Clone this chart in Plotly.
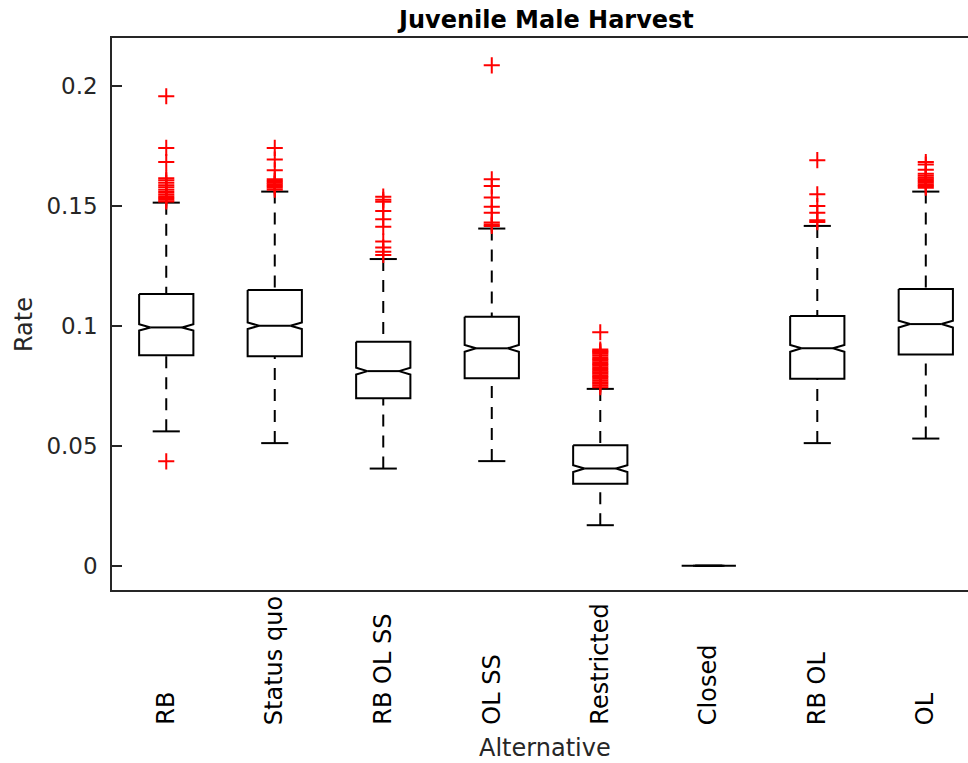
import plotly.graph_objects as go

categories = ["RB", "Status quo", "RB OL SS", "OL SS", "Restricted", "Closed", "RB OL", "OL"]
q1 = [0.0877, 0.0873, 0.0698, 0.0781, 0.0342, 0.0, 0.0779, 0.0880]
medians = [0.0993, 0.1000, 0.0811, 0.0906, 0.0405, 0.0, 0.0906, 0.1007]
q3 = [0.1132, 0.1149, 0.0933, 0.1038, 0.0502, 0.0, 0.1041, 0.1153]
notch_lo = [0.0980, 0.0986, 0.0797, 0.0892, 0.0391, 0.0, 0.0892, 0.0993]
notch_hi = [0.1006, 0.1014, 0.0825, 0.0920, 0.0419, 0.0, 0.0920, 0.1021]
lower_whisker = [0.0560, 0.0511, 0.0405, 0.0436, 0.0169, 0.0, 0.0511, 0.0530]
upper_whisker = [0.1513, 0.1559, 0.1278, 0.1405, 0.0737, 0.0, 0.1416, 0.1559]
outliers = [
    [0.1956, 0.1741, 0.1682, 0.1615, 0.1606, 0.1596, 0.1585, 0.1577, 0.1567, 0.1557,
     0.1548, 0.1540, 0.1532, 0.1525, 0.1518, 0.0435],
    [0.1741, 0.1693, 0.1648, 0.1610, 0.1603, 0.1596, 0.1590, 0.1582, 0.1575, 0.1567],
    [0.1538, 0.1525, 0.1517, 0.1478, 0.1444, 0.1413, 0.1351, 0.1326, 0.1308, 0.1295],
    [0.2085, 0.1610, 0.1582, 0.1534, 0.1496, 0.1471, 0.1430, 0.1422, 0.1416],
    [0.0973, 0.0901, 0.0895, 0.0890, 0.0884, 0.0877, 0.0869, 0.0862, 0.0855, 0.0848,
     0.0841, 0.0834, 0.0827, 0.0820, 0.0813, 0.0806, 0.0800, 0.0793, 0.0786, 0.0779,
     0.0772, 0.0765, 0.0758, 0.0751, 0.0744],
    [],
    [0.1690, 0.1548, 0.1499, 0.1471, 0.1440, 0.1432],
    [0.1682, 0.1672, 0.1650, 0.1633, 0.1625, 0.1617, 0.1610, 0.1603, 0.1596, 0.1589,
     0.1582, 0.1575],
]
y_tick_vals = [0, 0.05, 0.1, 0.15, 0.2]
y_tick_text = ["0", "0.05", "0.1", "0.15", "0.2"]

HW = 0.25      # box half width
INSET = 0.105  # notch inset
CAP = 0.125    # whisker cap half width

box_x, box_y, med_x, med_y, wx, wy, cx, cy, ox, oy = [], [], [], [], [], [], [], [], [], []
for i, cat in enumerate(categories):
    x = i + 1
    box_x += [x - HW, x + HW, x + HW, x + HW - INSET, x + HW, x + HW, x - HW, x - HW,
              x - HW + INSET, x - HW, x - HW, None]
    box_y += [q3[i], q3[i], notch_hi[i], medians[i], notch_lo[i], q1[i], q1[i], notch_lo[i],
              medians[i], notch_hi[i], q3[i], None]
    med_x += [x - HW + INSET, x + HW - INSET, None]
    med_y += [medians[i], medians[i], None]
    wx += [x, x, None, x, x, None]
    wy += [upper_whisker[i], q3[i], None, lower_whisker[i], q1[i], None]
    cx += [x - CAP, x + CAP, None, x - CAP, x + CAP, None]
    cy += [upper_whisker[i], upper_whisker[i], None, lower_whisker[i], lower_whisker[i], None]
    for v in outliers[i]:
        ox.append(x)
        oy.append(v)

fig = go.Figure()
fig.add_trace(go.Scatter(x=wx, y=wy, mode="lines",
                         line=dict(color="black", width=2, dash="12px,9px"), hoverinfo="skip"))
fig.add_trace(go.Scatter(x=cx, y=cy, mode="lines", line=dict(color="black", width=2), hoverinfo="skip"))
fig.add_trace(go.Scatter(x=box_x, y=box_y, mode="lines", line=dict(color="black", width=2)))
fig.add_trace(go.Scatter(x=med_x, y=med_y, mode="lines", line=dict(color="black", width=2)))
fig.add_trace(go.Scatter(x=ox, y=oy, mode="markers",
                         marker=dict(symbol="cross-thin", size=11.5, color="red",
                                     line=dict(color="red", width=2))))

axis_col = "#262626"
fig.update_layout(
    width=968, height=763,
    margin=dict(l=112, r=0, t=38, b=173),
    plot_bgcolor="white", paper_bgcolor="white",
    showlegend=False,
    xaxis=dict(range=[0.5, 8.389], showgrid=False, zeroline=False, showline=True,
               linecolor=axis_col, linewidth=1.5, mirror=True, ticks="", showticklabels=False),
    yaxis=dict(range=[-0.0101, 0.2199], showgrid=False, zeroline=False, showline=True,
               linecolor=axis_col, linewidth=1.5, mirror=False, ticks="inside", ticklen=10,
               tickwidth=1.5, tickcolor=axis_col, tickvals=y_tick_vals, ticktext=y_tick_text,
               tickfont=dict(family="DejaVu Sans", size=23, color=axis_col),
               ticklabelstandoff=8),
)

for i, cat in enumerate(categories):
    fig.add_annotation(x=i + 1, y=-0.248, xref="x", yref="paper", text=cat, textangle=-90,
                       showarrow=False, xanchor="center", yanchor="bottom",
                       font=dict(family="DejaVu Sans", size=24, color="black"))

fig.add_annotation(x=0.5064, y=-0.286, xref="paper", yref="paper", text="Alternative",
                   showarrow=False, xanchor="center", yanchor="middle",
                   font=dict(family="DejaVu Sans", size=24, color=axis_col))
fig.add_annotation(x=-0.1028, y=0.48, xref="paper", yref="paper", text="Rate", textangle=-90,
                   showarrow=False, xanchor="center", yanchor="middle",
                   font=dict(family="DejaVu Sans", size=24, color=axis_col))
fig.add_annotation(x=0.5064, y=1.0326, xref="paper", yref="paper",
                   text="<b>Juvenile Male Harvest</b>",
                   showarrow=False, xanchor="center", yanchor="middle",
                   font=dict(family="DejaVu Sans", size=24, color="black"))

fig.write_html("out.html")
